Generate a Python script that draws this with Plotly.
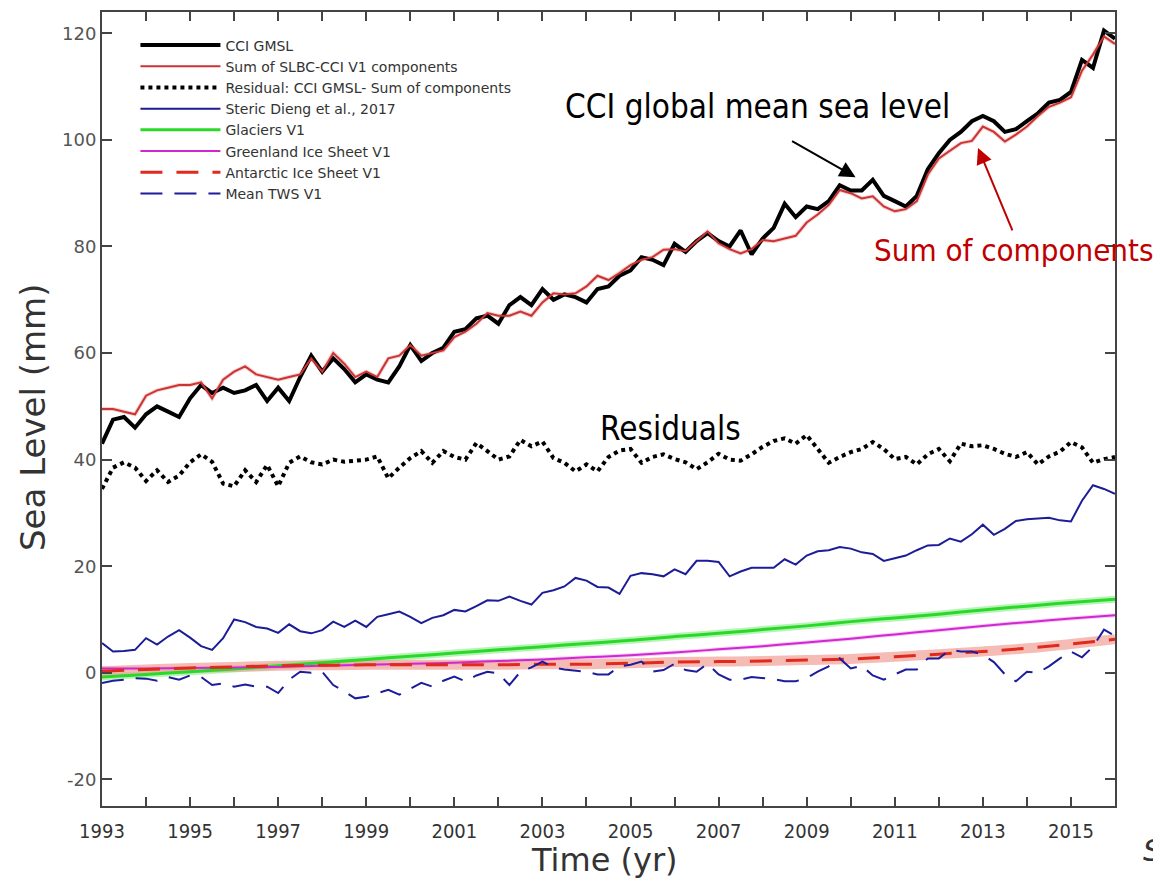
import plotly.graph_objects as go

# ---------------- data ----------------
# quarterly sample times 1993.00 ... 2016.00
t_q = [1993 + i / 4 for i in range(93)]
t_y = list(range(1993, 2017))

cci_gmsl = [
    43.0, 47.5, 48.0, 46.0,  48.5, 50.0, 49.0, 48.0,  51.5, 54.0, 52.5, 53.5,
    52.5, 53.0, 54.0, 51.0,  53.5, 51.0, 55.5, 59.5,  56.5, 59.0, 57.0, 54.5,
    56.0, 55.0, 54.5, 57.5,  61.5, 58.5, 60.0, 61.0,  64.0, 64.5, 66.5, 67.0,
    65.5, 69.0, 70.5, 69.0,  72.0, 70.0, 71.0, 70.5,  69.5, 72.0, 72.5, 74.5,
    75.5, 78.0, 77.5, 76.5,  80.5, 79.0, 81.0, 82.5,  81.0, 80.0, 83.0, 78.5,
    81.5, 83.5, 88.0, 85.5,  87.5, 87.0, 88.5, 91.5,  90.5, 90.5, 92.5, 89.5,
    88.5, 87.5, 89.5, 94.5,  97.5, 100.0, 101.5, 103.5, 104.5, 103.5, 101.5, 102.0,
    103.5, 105.0, 107.0, 107.5, 109.0, 115.0, 113.5, 120.5, 119.0]

sum_components = [
    49.5, 49.5, 49.0, 48.5,  52.0, 53.0, 53.5, 54.0,  54.0, 54.5, 51.5, 55.0,
    56.5, 57.5, 56.0, 55.5,  55.0, 55.5, 56.0, 59.0,  56.5, 60.0, 58.0, 55.5,
    56.5, 55.5, 59.0, 59.5,  61.5, 59.5, 60.0, 60.5,  63.0, 64.0, 65.5, 67.5,
    67.0, 67.0, 67.8, 67.0,  69.5, 71.2, 71.0, 71.2,  72.5, 74.5, 73.7, 75.0,
    76.5, 77.5, 78.0, 79.4,  79.5, 79.1, 81.0, 82.8,  80.6, 79.5, 78.7, 79.5,
    81.2, 81.0, 81.5, 82.0,  84.5, 86.0, 87.8, 90.6,  90.0, 89.0, 89.4, 87.5,
    86.6, 87.0, 88.5, 93.5,  96.5, 98.0, 99.4, 99.8,  102.5, 101.5, 99.7, 101.0,
    102.5, 104.5, 106.2, 107.0, 108.0, 113.0, 116.0, 119.4, 118.0]

residual = [
    34.5, 38.5, 39.5, 38.5,  36.0, 38.0, 35.8, 37.0,  39.5, 41.0, 39.6, 35.5,
    35.0, 38.0, 35.8, 39.0,  35.0, 39.4, 40.6, 39.5,  39.1, 40.0, 39.6, 39.8,
    40.0, 40.6, 36.5, 38.5,  40.3, 41.6, 39.4, 41.6,  40.5, 40.0, 43.1, 41.6,
    40.0, 40.6, 43.7, 42.5,  43.4, 40.3, 39.4, 37.8,  39.1, 37.8, 40.5, 41.7,
    42.0, 39.4, 40.5, 41.0,  40.1, 39.5, 38.2, 39.5,  41.1, 40.0, 39.8, 41.0,
    42.4, 43.5, 44.0, 43.0,  44.6, 42.0, 39.4, 40.5,  41.4, 42.0, 43.3, 42.0,
    40.1, 40.5, 39.1, 41.0,  42.0, 39.7, 43.0, 42.5,  42.7, 42.0, 41.1, 40.5,
    41.4, 39.1, 40.6, 41.5,  43.3, 42.3, 39.4, 40.1, 40.5]

steric = [
    5.6, 4.0, 4.1, 4.3,  6.5, 5.3, 6.8, 8.0,  6.6, 5.0, 4.3, 6.5,
    10.0, 9.5, 8.6, 8.3,  7.5, 9.1, 7.8, 7.4,  8.0, 9.6, 8.6, 9.8,
    8.6, 10.5, 11.0, 11.5,  10.5, 9.3, 10.3, 10.8,  11.8, 11.5, 12.5, 13.6,
    13.5, 14.3, 13.5, 12.8,  15.0, 15.5, 16.2, 17.8,  17.3, 16.1, 16.0, 14.8,
    18.2, 18.7, 18.5, 18.1,  19.4, 18.5, 21.0, 21.0,  20.8, 18.1, 19.0, 19.7,
    19.7, 19.7, 21.3, 20.3,  22.0, 22.8, 23.0, 23.6,  23.3, 22.6, 22.3, 21.0,
    21.5, 22.0, 23.0, 23.9,  24.0, 25.2, 24.6, 26.0,  27.8, 25.9, 27.0, 28.5,
    28.8, 29.0, 29.1, 28.6,  28.4, 32.3, 35.2, 34.5, 33.6]

mean_tws = [
    -1.9, -1.5, -1.3, -1.0,  -1.1, -1.5, -0.8, -1.3,  -0.5, -0.8, -2.3, -2.0,
    -2.6, -2.2, -2.6, -2.6,  -3.8, -1.3, 0.2, 0.0,  0.2, -2.3, -3.5, -4.8,
    -4.5, -3.8, -3.2, -4.1,  -3.0, -1.9, -2.6, -1.5,  -0.7, -1.6, -0.5, 0.2,
    -0.1, -2.3, 0.2, 1.0,  2.1, 1.0, 0.6, 0.4,  0.2, -0.3, -0.3, 1.2,
    1.5, 2.1, 0.2, 0.5,  1.7, 0.5, 0.2, 1.7,  -0.3, -1.3, -1.3, -0.8,
    -1.0, -1.2, -1.6, -1.6,  -1.0, 0.2, 1.2, 2.7,  0.8, 1.3, -0.5, -1.3,
    -0.3, 0.6, 0.6, 2.7,  2.7, 4.3, 4.0, 4.0,  3.4, 2.0, -0.3, -1.6,
    0.2, 0.0, 1.2, 2.7,  4.0, 2.9, 4.9, 8.1, 6.9]

glaciers = [-0.8, -0.3, 0.2, 0.7, 1.3, 1.9, 2.5, 3.1, 3.7, 4.3, 4.9, 5.5,
            6.1, 6.8, 7.4, 8.1, 8.8, 9.6, 10.3, 11.0, 11.8, 12.5, 13.2, 13.8]
greenland = [0.8, 0.8, 0.9, 1.0, 1.1, 1.3, 1.5, 1.7, 1.9, 2.2, 2.5, 2.9,
             3.3, 3.8, 4.4, 5.0, 5.7, 6.4, 7.2, 8.0, 8.8, 9.5, 10.2, 10.8]
antarctic = [0.3, 0.6, 0.9, 1.1, 1.3, 1.4, 1.5, 1.5, 1.5, 1.5, 1.6, 1.6,
             1.8, 2.0, 2.1, 2.2, 2.4, 2.6, 3.0, 3.5, 4.0, 4.6, 5.4, 6.3]

x_tick_vals = list(range(1993, 2016, 2))
x_tick_text = [str(v) for v in x_tick_vals]
y_tick_vals = [-20, 0, 20, 40, 60, 80, 100, 120]
y_tick_text = ["-20", "0", "20", "40", "60", "80", "100", "120"]

# ---------------- figure ----------------
fig = go.Figure()

# light uncertainty halos (not in legend)
fig.add_trace(go.Scatter(x=t_y, y=glaciers, mode="lines", line=dict(color="rgba(150,240,150,0.7)", width=7, shape="spline"),
                         showlegend=False, hoverinfo="skip"))
fig.add_trace(go.Scatter(x=t_y, y=greenland, mode="lines", line=dict(color="rgba(240,170,240,0.6)", width=4, shape="spline"),
                         showlegend=False, hoverinfo="skip"))
fig.add_trace(go.Scatter(x=t_y, y=antarctic, mode="lines", line=dict(color="rgba(240,160,150,0.7)", width=10, shape="spline"),
                         showlegend=False, hoverinfo="skip"))
fig.add_trace(go.Scatter(x=t_q, y=sum_components, mode="lines", line=dict(color="rgba(235,150,150,0.45)", width=4),
                         showlegend=False, hoverinfo="skip"))

fig.add_trace(go.Scatter(x=t_q, y=cci_gmsl, name="CCI GMSL", mode="lines",
                         line=dict(color="black", width=4)))
fig.add_trace(go.Scatter(x=t_q, y=sum_components, name="Sum of SLBC-CCI V1 components", mode="lines",
                         line=dict(color="#cc3333", width=2)))
fig.add_trace(go.Scatter(x=t_q, y=residual, name="Residual: CCI GMSL- Sum of components", mode="lines",
                         line=dict(color="black", width=4, dash="dot")))
fig.add_trace(go.Scatter(x=t_q, y=steric, name="Steric Dieng et al., 2017", mode="lines",
                         line=dict(color="#1c1c96", width=2)))
fig.add_trace(go.Scatter(x=t_y, y=glaciers, name="Glaciers V1", mode="lines",
                         line=dict(color="#2ad82a", width=3, shape="spline")))
fig.add_trace(go.Scatter(x=t_y, y=greenland, name="Greenland Ice Sheet V1", mode="lines",
                         line=dict(color="#d028d0", width=2, shape="spline")))
fig.add_trace(go.Scatter(x=t_y, y=antarctic, name="Antarctic Ice Sheet V1", mode="lines",
                         line=dict(color="#e02a1e", width=3, dash="22px,14px", shape="spline")))
fig.add_trace(go.Scatter(x=t_q, y=mean_tws, name="Mean TWS V1", mode="lines",
                         line=dict(color="#1c1c9c", width=2, dash="22px,12px")))

narrow = "DejaVu Sans Condensed, Liberation Sans Narrow, Arial Narrow, sans-serif"
anno_font = "Liberation Sans Narrow, Arial Narrow, DejaVu Sans Condensed, sans-serif"

# page has an 8px body margin: figure is 1153x872 so the plot area lands at 102..1115 x 12..806
fig.update_layout(
    width=1153, height=872,
    margin=dict(l=94, r=46, t=4, b=74),
    paper_bgcolor="white", plot_bgcolor="white",
    showlegend=True,
    legend=dict(x=0.033, y=0.978, xanchor="left", yanchor="top",
                bgcolor="rgba(255,255,255,0.85)", borderwidth=0,
                font=dict(family="DejaVu Sans", size=14, color="#333"),
                itemwidth=80, tracegroupgap=0),
    xaxis=dict(range=[1993, 2016], tickvals=x_tick_vals, ticktext=x_tick_text,
               automargin=False,
               ticks="inside", ticklen=9, tickwidth=2, tickcolor="#444",
               minor=dict(dtick=1, tick0=1993, ticks="inside", ticklen=9, tickwidth=2, tickcolor="#444"),
               showline=True, linecolor="#444", linewidth=2, mirror="ticks",
               showgrid=False, zeroline=False, ticklabelstandoff=6,
               tickfont=dict(family=narrow, size=20, color="#333")),
    yaxis=dict(range=[-25, 124], tickvals=y_tick_vals, ticktext=y_tick_text,
               automargin=False,
               ticks="inside", ticklen=10, tickwidth=2, tickcolor="#444",
               showline=True, linecolor="#444", linewidth=2, mirror="ticks",
               showgrid=False, zeroline=False,
               tickfont=dict(family="DejaVu Sans", size=18, color="#555")),
    font=dict(family="DejaVu Sans"),
)

# axis titles
fig.add_annotation(xref="paper", yref="paper", x=(604 - 102) / 1013, y=(806 - 860) / 794,
                   xanchor="center", yanchor="middle", text="Time (yr)", showarrow=False,
                   font=dict(family="DejaVu Sans", size=32, color="#333"))
fig.add_annotation(xref="paper", yref="paper", x=(33 - 102) / 1013, y=(806 - 418) / 794,
                   xanchor="center", yanchor="middle", text="Sea Level (mm)", showarrow=False,
                   textangle=-90, font=dict(family="DejaVu Sans", size=34, color="#333"))

fig.add_annotation(xref="paper", yref="paper", x=(757 - 102) / 1013, y=(806 - 107) / 794,
                   xanchor="center", yanchor="middle",
                   text="CCI global mean sea level", showarrow=False,
                   font=dict(family=anno_font, size=33, color="black"))
fig.add_annotation(xref="paper", yref="paper", x=(1155 - 102) / 1013, y=(806 - 250) / 794,
                   xanchor="right", yanchor="middle",
                   text="Sum of components", showarrow=False,
                   font=dict(family=anno_font, size=31, color="#c00000"))
fig.add_annotation(xref="paper", yref="paper", x=(670 - 102) / 1013, y=(806 - 428) / 794,
                   xanchor="center", yanchor="middle",
                   text="Residuals", showarrow=False,
                   font=dict(family=anno_font, size=33, color="black"))
# arrows
fig.add_annotation(x=2010.11, y=93.0, xref="x", yref="y", ax=-65, ay=-37, text="",
                   showarrow=True, arrowhead=2, arrowsize=1.6, arrowwidth=2, arrowcolor="black")
fig.add_annotation(x=2012.89, y=98.5, xref="x", yref="y", ax=35, ay=84, text="",
                   showarrow=True, arrowhead=2, arrowsize=1.6, arrowwidth=2, arrowcolor="#c00000")
# cut-off slide text at the bottom right
fig.add_annotation(xref="paper", yref="paper", x=(1141 - 102) / 1013, y=(806 - 851) / 794,
                   xanchor="left", yanchor="middle",
                   text="<i>S</i>", showarrow=False,
                   font=dict(family="DejaVu Sans", size=30, color="#333"))

fig.write_html("out.html")
